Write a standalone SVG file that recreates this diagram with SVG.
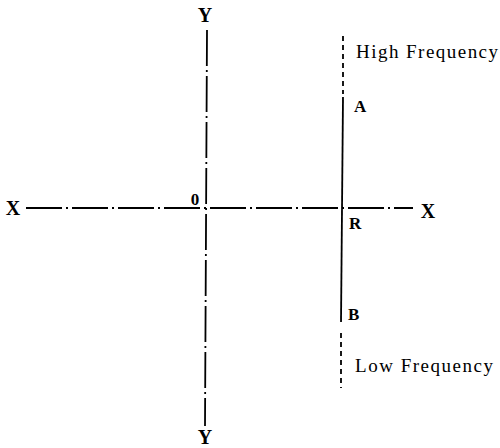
<svg xmlns="http://www.w3.org/2000/svg" width="500" height="448" viewBox="0 0 500 448">
<style>
.axis{stroke:#000;stroke-width:1.8;fill:none;stroke-dasharray:36 4 2 4}
.solid{stroke:#000;stroke-width:1.8;fill:none}
.dash{stroke:#000;stroke-width:1.8;fill:none;stroke-dasharray:5 4}
.lbl{font-family:"Liberation Serif","Times New Roman",serif;font-weight:bold;font-size:20px;fill:#000}
.sm{font-family:"Liberation Serif","Times New Roman",serif;font-weight:bold;font-size:17px;fill:#000}
.txt{font-family:"Liberation Serif","Times New Roman",serif;font-size:19px;fill:#000}
</style>
<rect width="500" height="448" fill="#fff"/>
<g id="connectors">
<line class="axis" x1="26" y1="208" x2="413" y2="208"/>
<line class="axis" x1="207" y1="30" x2="205" y2="426"/>
<line class="dash" x1="343" y1="36" x2="343" y2="94"/>
<line class="solid" x1="343" y1="97" x2="341" y2="322"/>
<line class="dash" x1="341" y1="333" x2="341" y2="388"/>
</g>
<g id="y-top"><text class="lbl" x="205" y="22" text-anchor="middle">Y</text></g>
<g id="y-bottom"><text class="lbl" x="205" y="444" text-anchor="middle">Y</text></g>
<g id="x-left"><text class="lbl" x="13" y="215" text-anchor="middle">X</text></g>
<g id="x-right"><text class="lbl" x="428" y="218" text-anchor="middle">X</text></g>
<g id="origin"><text class="sm" x="195" y="205" text-anchor="middle">0</text></g>
<g id="A"><text class="sm" x="354" y="112">A</text></g>
<g id="R"><text class="sm" x="349" y="229">R</text></g>
<g id="B"><text class="sm" x="348" y="320">B</text></g>
<g id="high"><text class="txt" x="356" y="58" textLength="142" lengthAdjust="spacing">High Frequency</text></g>
<g id="low"><text class="txt" x="355" y="372" textLength="138" lengthAdjust="spacing">Low Frequency</text></g>
</svg>
